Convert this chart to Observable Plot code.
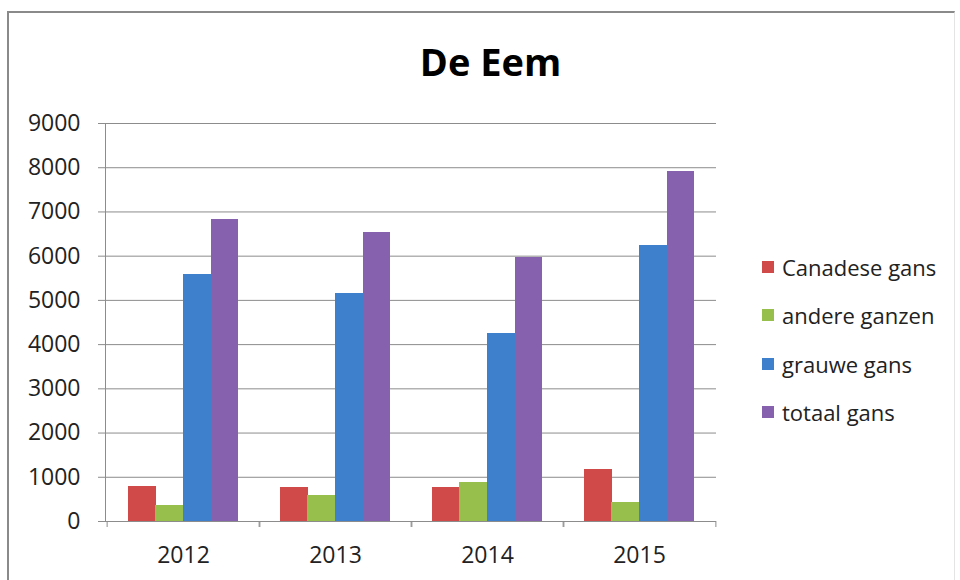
<!DOCTYPE html>
<html>
<head>
<meta charset="utf-8">
<script src="https://cdn.jsdelivr.net/npm/d3@7"></script>
<script src="https://cdn.jsdelivr.net/npm/@observablehq/plot@0.6"></script>
<style>
  html, body { margin: 0; padding: 0; background: #fff; }
  #wrap { position: relative; width: 960px; height: 580px; overflow: hidden; font-family: "Open Sans", sans-serif; }
  #border { position: absolute; left: 7px; top: 11px; width: 945px; height: 620px;
            border-left: 2px solid #8a8a8a; border-top: 2px solid #8a8a8a; border-right: 1px solid #e4e4e4; }
  #title { position: absolute; left: 0; top: 42px; width: 981px; text-align: center;
           font: bold 38px/38px "Open Sans", sans-serif; color: #000; }
  #chart { position: absolute; left: 0; top: 0; }
  #legend { position: absolute; left: 762px; top: 243px; }
  .lg-swatch { height: 48.3px !important; padding: 0 !important; margin: 0 !important; display: flex !important; align-items: center !important; }
  .lg-swatch svg { margin-right: 8px !important; }
</style>
</head>
<body>
<div id="wrap">
  <div id="border"></div>
  <div id="chart"></div>
  <div id="title">De Eem</div>
  <div id="legend"></div>
</div>
<script>
// ---- data ----
const years = ["2012", "2013", "2014", "2015"];
const series = ["Canadese gans", "andere ganzen", "grauwe gans", "totaal gans"];
const canadese = [800, 760, 760, 1170];
const andere = [370, 580, 875, 425];
const grauwe = [5580, 5160, 4260, 6250];
const totaal = [6830, 6540, 5980, 7910];
const yTicks = [0, 1000, 2000, 3000, 4000, 5000, 6000, 7000, 8000, 9000];
const colors = ["#cf4a48", "#96c04b", "#3f80cc", "#8661ad"];

const values = [canadese, andere, grauwe, totaal];
const data = series.flatMap((s, i) => years.map((y, j) => ({year: y, series: s, value: values[i][j]})));

// ---- layout ----
const W = 960, H = 580;
const mL = 105, mR = 244, mT = 123, mB = 59;
const plotW = W - mL - mR;
const step = plotW / years.length;
const pad = step * 0.135;
const barW = (step - 2 * pad) / series.length;
const gridColor = "#8c8c8c";
const textColor = "#222222";

const plot = Plot.plot({
  width: W,
  height: H,
  marginLeft: mL,
  marginRight: mR,
  marginTop: mT,
  marginBottom: mB,
  style: {fontFamily: "Open Sans, sans-serif", fontSize: "23px", background: "transparent", overflow: "visible"},
  x: {type: "band", domain: years, padding: 0},
  y: {domain: [0, 9000]},
  color: {domain: series, range: colors},
  marks: [
    Plot.gridY({ticks: yTicks.filter(t => t > 0), stroke: gridColor, strokeOpacity: 1}),
    ...series.map((s, i) => Plot.barY(data.filter(d => d.series === s), {
      x: "year", y: "value", fill: "series",
      shapeRendering: "crispEdges",
      insetLeft: pad + i * barW,
      insetRight: step - pad - (i + 1) * barW - (i < series.length - 1 ? 1.2 : 0)
    })),
    Plot.ruleY([0], {stroke: gridColor}),
    Plot.frame({anchor: "left", stroke: gridColor}),
    Plot.axisY({ticks: yTicks, tickSize: 7, tickPadding: 18, tickFormat: d3.format("d"), stroke: gridColor, fill: textColor, fontSize: 23, label: null}),
    Plot.axisX({tickSize: 6, dx: -step / 2, tickFormat: () => "", stroke: gridColor, label: null}),
    Plot.axisX({tickSize: 6, dx: step / 2, tickFormat: () => "", stroke: gridColor, label: null}),
    Plot.axisX({tickSize: 0, tickPadding: 25, fill: textColor, fontSize: 23, label: null})
  ]
});
document.getElementById("chart").appendChild(plot);

const legend = plot.legend("color", {
  columns: 1,
  swatchSize: 12,
  className: "lg",
  style: {fontFamily: "Open Sans, sans-serif", fontSize: "22px", color: textColor}
});
document.getElementById("legend").appendChild(legend);
</script>
</body>
</html>
